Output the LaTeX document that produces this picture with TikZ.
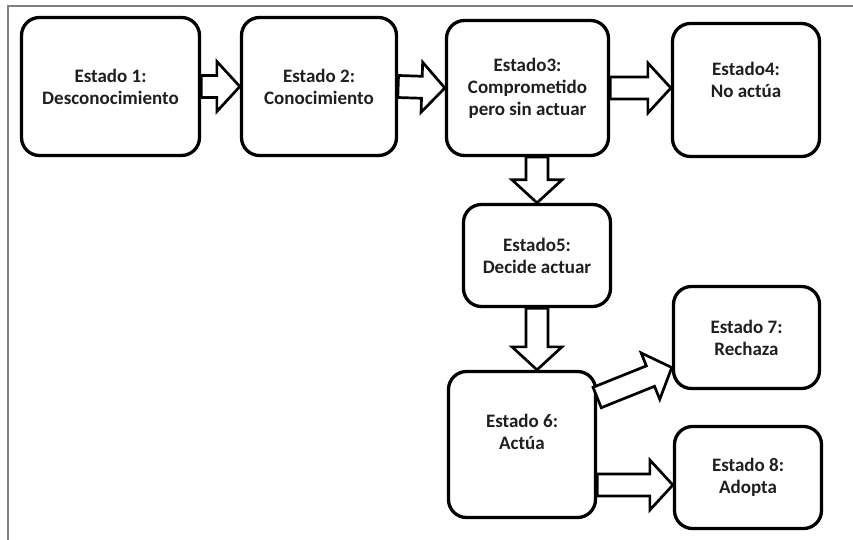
\documentclass[tikz,border=0pt]{standalone}
\usepackage{fontspec}
\setmainfont{Carlito}
\usetikzlibrary{calc}
\tikzset{
  box/.style={draw, line width=3.3pt, rounded corners=18pt, inner sep=0pt, align=center,
    font=\bfseries\fontsize{19}{22}\selectfont, text=black!88},
  txt/.style={inner sep=0pt, align=center, font=\bfseries\fontsize{19}{22}\selectfont, text=black!88},
  barrow/.style={draw, line width=2.7pt, fill=white, line join=miter},
  frame/.style={draw=black!50, line width=1.4pt},
}
\newcommand{\blockarrow}[2]{%
  \draw[barrow] let \p1=(#1), \p2=(#2),
    \n1={atan2(\y2-\y1,\x2-\x1)}, \n2={veclen(\x2-\x1,\y2-\y1)} in
    [shift={(\p1)}, rotate=\n1]
    (0pt,-11pt) -- (\n2*1pt-23pt,-11pt) -- (\n2*1pt-23pt,-25pt) -- (\n2*1pt,0pt)
    -- (\n2*1pt-23pt,25pt) -- (\n2*1pt-23pt,11pt) -- (0pt,11pt) -- cycle;}
\begin{document}
\begin{tikzpicture}[x=1pt,y=-1pt]
\useasboundingbox (0,0) rectangle (853,540);
\draw[frame] (853,6) -- (8,6) -- (8,540);

\node[box, minimum width=178pt, minimum height=138pt] (s1) at (110.5,86.5) {Estado 1:\\Desconocimiento};
\node[box, minimum width=155pt, minimum height=138pt] (s2) at (319,86.5) {Estado 2:\\Conocimiento};
\node[box, minimum width=162pt, minimum height=135pt] (s3) at (527.5,88) {Estado3:\\Comprometido\\pero sin actuar};
\node[box, minimum width=147pt, minimum height=133pt] (s4) at (746,90) {};
\node[txt] (t4) at ([yshift=10pt]s4.center) {Estado4:\\No actúa};
\node[box, minimum width=147pt, minimum height=102pt] (s5) at (537,255.5) {Estado5:\\Decide actuar};
\node[box, minimum width=147pt, minimum height=146pt] (s6) at (522,444.5) {};
\node[txt] (t6) at ([yshift=12.5pt]s6.center) {Estado 6:\\Actúa};
\node[box, minimum width=146pt, minimum height=102pt] (s7) at (746.5,337.5) {Estado 7:\\Rechaza};
\node[box, minimum width=147pt, minimum height=102pt] (s8) at (748,477.5) {Estado 8:\\Adopta};

\blockarrow{s1.east}{s2.west}
\blockarrow{s2.east}{s3.west}
\blockarrow{s3.east}{s3.east -| s4.west}
\blockarrow{s5.north |- s3.south}{s5.north}
\blockarrow{s5.south}{s5.south |- s6.north}
\coordinate (a8) at ([yshift=-7.5pt]s8.west);
\blockarrow{a8 -| s6.east}{a8}
\coordinate (a7) at ([yshift=-30pt]s7.west);
\coordinate (b7) at ([yshift=47pt]s6.east);
\blockarrow{b7}{a7}
\end{tikzpicture}
\end{document}
